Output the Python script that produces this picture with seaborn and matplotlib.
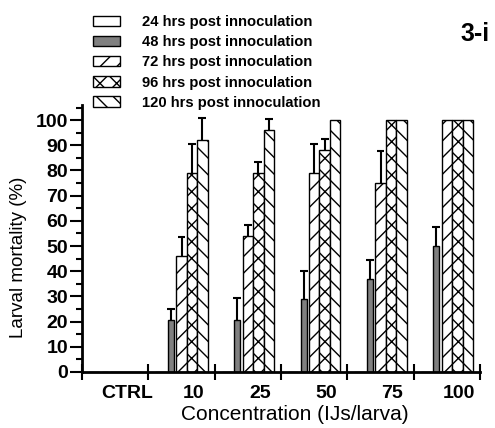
import matplotlib.pyplot as plt
import numpy as np
import pandas as pd
import seaborn as sns
from matplotlib.patches import Patch
from matplotlib.ticker import MultipleLocator

concentrations = ["CTRL", "10", "25", "50", "75", "100"]
hours = [
    "24 hrs post innoculation",
    "48 hrs post innoculation",
    "72 hrs post innoculation",
    "96 hrs post innoculation",
    "120 hrs post innoculation",
]

mean_24 = [0, 0, 0, 0, 0, 0]
mean_48 = [0, 20.5, 20.5, 29, 37, 50]
mean_72 = [0, 46, 54, 79, 75, 100]
mean_96 = [0, 79, 79, 88, 100, 100]
mean_120 = [0, 92, 96, 100, 100, 100]

err_24 = [0, 0, 0, 0, 0, 0]
err_48 = [0, 4.5, 8.7, 11, 7.5, 7.5]
err_72 = [0, 7.5, 4.5, 11.5, 12.7, 0]
err_96 = [0, 11.5, 4.5, 4.5, 0, 0]
err_120 = [0, 9, 4.5, 0, 0, 0]

means = [mean_24, mean_48, mean_72, mean_96, mean_120]
errs = [err_24, err_48, err_72, err_96, err_120]
colors = ["white", "#808080", "white", "white", "white"]
hatches = ["", "", "//", "xx", "\\\\"]

rows = []
for h, vals in zip(hours, means):
    for c, v in zip(concentrations, vals):
        rows.append({"concentration": c, "time": h, "mortality": v})
df = pd.DataFrame(rows)

sns.set_style("ticks", {
    "axes.edgecolor": "black", "text.color": "black",
    "axes.labelcolor": "black", "xtick.color": "black", "ytick.color": "black",
})
plt.rcParams["font.family"] = ["Liberation Sans", "DejaVu Sans"]
plt.rcParams["hatch.linewidth"] = 1.0
plt.rcParams["hatch.color"] = "black"

fig = plt.figure(figsize=(4.95, 4.28), dpi=100)
ax = fig.add_axes([82 / 495, 56 / 428, 398 / 495, 267 / 428])

sns.barplot(
    data=df, x="concentration", y="mortality", hue="time",
    order=concentrations, hue_order=hours, palette=colors,
    width=0.79, edgecolor="black", linewidth=1.0, saturation=1,
    errorbar=None, legend=False, ax=ax,
)

# one-sided (upper) error bars with caps, as in the original figure
cap = 0.06
for i, cont in enumerate(ax.containers):
    for j, p in enumerate(cont.patches):
        p.set_hatch(hatches[i])
        if i == 1:
            w = p.get_width()
            p.set_x(p.get_x() + w * 0.2)
            p.set_width(w * 0.6)
        e = errs[i][j]
        if e > 0:
            x = p.get_x() + p.get_width() / 2
            top = p.get_height()
            ax.vlines(x, top, top + e, color="black", lw=1.5, zorder=3)
            ax.hlines(top + e, x - cap, x + cap, color="black", lw=1.5, zorder=3)

ax.set_xlim(-0.5, 5.5)
ax.set_xticks(np.arange(-0.5, 6, 1), labels=[""] * 7)
ax.set_xticks(np.arange(6) + 0.18, labels=concentrations, minor=True,
              fontweight="bold", fontsize=14)
ax.tick_params(axis="x", which="major", direction="inout", length=11, width=1.5)
ax.tick_params(axis="x", which="minor", length=0, pad=9)

ax.set_ylim(0, 106)
ax.set_yticks(range(0, 101, 10))
ax.yaxis.set_minor_locator(MultipleLocator(5))
ax.tick_params(axis="y", which="major", length=9, width=1.5, labelsize=14, pad=1)
ax.tick_params(axis="y", which="minor", length=4, width=1.5)
for lbl in ax.get_yticklabels():
    lbl.set_fontweight("bold")

sns.despine(ax=ax)
ax.spines[["left", "bottom"]].set_linewidth(2)

ax.set_xlabel("Concentration (IJs/larva)", fontsize=15, va="center")
ax.xaxis.set_label_coords(0.535, -0.158)
ax.set_ylabel("Larval mortality (%)", fontsize=13.5, va="center")
ax.yaxis.set_label_coords(-0.16, 0.43)

handles = [
    Patch(facecolor=c, edgecolor="black", hatch=h, label=lab)
    for c, h, lab in zip(colors, hatches, hours)
]
fig.legend(
    handles=handles, loc="upper left", bbox_to_anchor=(93 / 495, 1 - 15 / 428),
    frameon=False, prop={"weight": "bold", "size": 10.6},
    handlelength=1.85, handleheight=0.7, handletextpad=1.45,
    labelspacing=0.42, borderpad=0, borderaxespad=0,
)

fig.text(490 / 495, 1 - 22 / 428, "3-i", ha="right", va="top",
         fontsize=18, fontweight="bold")

fig.savefig("out.png", dpi=100)
